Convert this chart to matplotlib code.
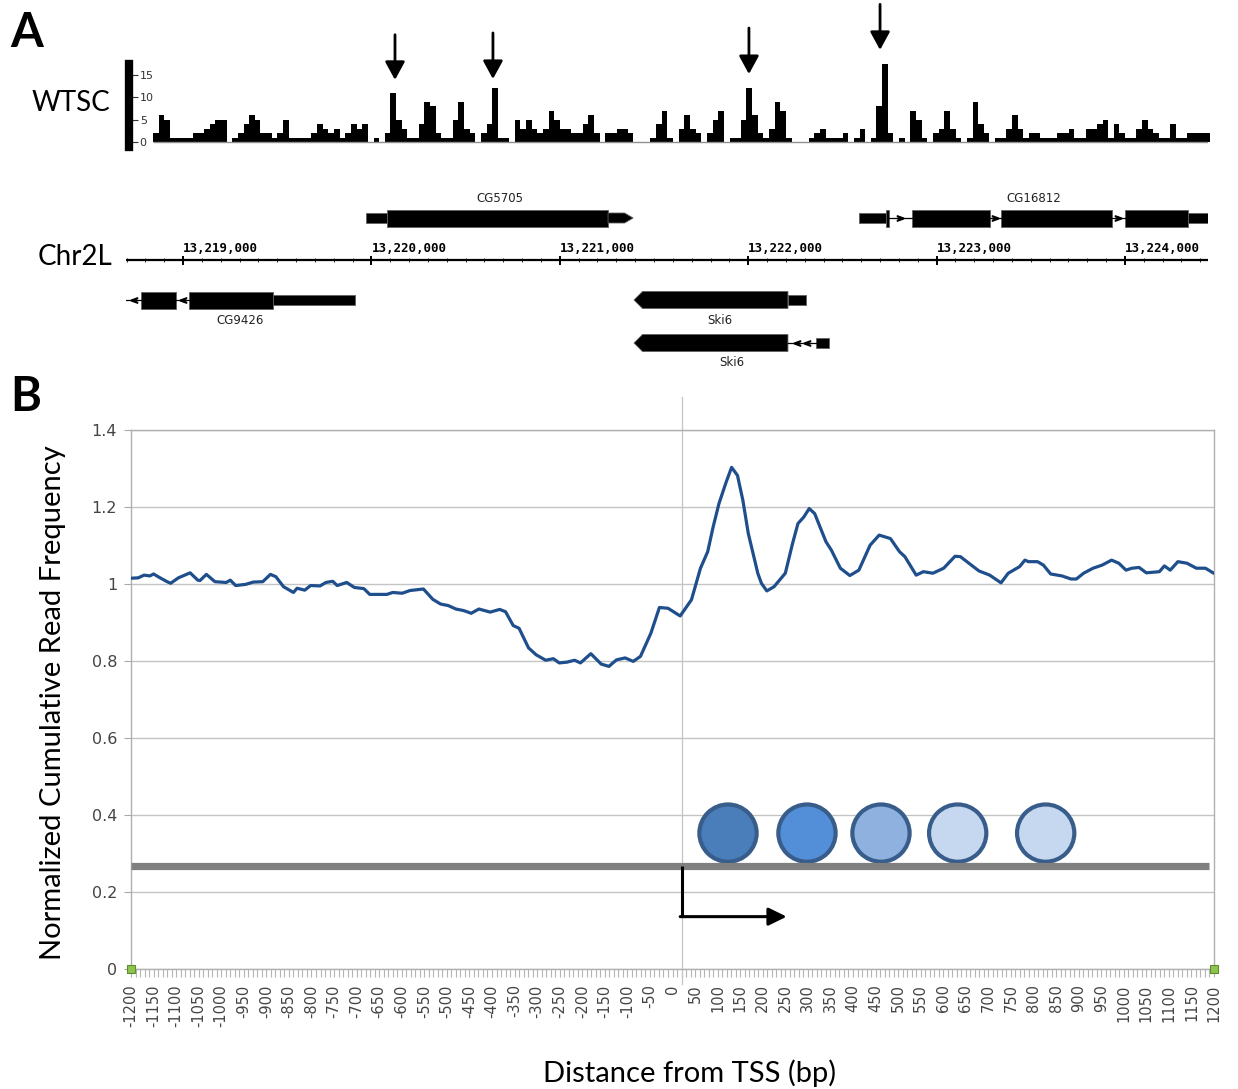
import numpy as np
import matplotlib.pyplot as plt
from matplotlib.patches import Polygon, Rectangle
from matplotlib.ticker import MultipleLocator, FuncFormatter

W, H = 1238, 1089


def frac(x0, y0, x1, y1):
    # pixel box -> figure fraction
    return [x0 / W, 1 - y1 / H, (x1 - x0) / W, (y1 - y0) / H]


# ---------------- panel A data ----------------
view_start, view_end = 13218697, 13224441
cov_start = 13218841
cov_bin = 30
coverage = [2, 6, 5, 1, 1, 1, 1, 2, 2, 3,
            4, 5, 5, 0, 1, 2, 4, 6, 5, 2,
            2, 1, 2, 5, 1, 1, 1, 1, 2, 4,
            3, 2, 3, 1, 2, 4, 3, 4, 0, 1,
            0, 2, 11, 5, 3, 1, 1, 4, 9, 8,
            2, 1, 1, 5, 9, 3, 2, 0, 2, 4,
            12, 1, 1, 0, 5, 3, 5, 3, 2, 3,
            7, 5, 3, 3, 2, 2, 4, 6, 2, 0,
            2, 2, 3, 3, 2, 0, 0, 0, 1, 4,
            7, 1, 0, 3, 6, 3, 2, 0, 2, 5,
            7, 0, 1, 1, 5, 12, 6, 2, 1, 3,
            9, 7, 1, 0, 0, 0, 1, 2, 3, 1,
            1, 1, 2, 0, 1, 3, 0, 1, 8, 17.5,
            2, 0, 1, 0, 7, 5, 1, 0, 2, 3,
            7, 3, 1, 0, 1, 9, 4, 2, 0, 1,
            1, 3, 6, 3, 1, 2, 2, 1, 1, 1,
            2, 2, 3, 1, 1, 3, 3, 4, 5, 1,
            4, 2, 1, 1, 3, 5, 3, 2, 1, 1,
            4, 1, 1, 2, 2, 2, 2]
cov_ticks = [0, 5, 10, 15]

# arrows marking the peaks (genomic x, tip height, tail height in reads)
arrow_x = [13220125, 13220645, 13222004, 13222700]
arrow_tip = [13.9, 14.1, 15.2, 20.6]
arrow_tail = [24.0, 24.4, 25.5, 30.8]

ruler_major = list(range(13219000, 13224001, 1000))
ruler_minor = list(range(13218700, view_end, 100))

# gene models: (kind, start, end)
cg5705 = [('utr', 13219971, 13220083), ('cds', 13220083, 13221256),
          ('utr', 13221256, 13221389)]
cg16812 = [('utr', 13222588, 13222731), ('cds', 13222731, 13222745),
           ('intron', 13222745, 13222869), ('cds', 13222869, 13223283),
           ('intron', 13223283, 13223342), ('cds', 13223342, 13223931),
           ('intron', 13223931, 13224000), ('cds', 13224000, 13224334),
           ('utr', 13224334, view_end)]
cg9426 = [('intron', view_start, 13218777), ('cds', 13218777, 13218963),
          ('intron', 13218963, 13219032), ('cds', 13219032, 13219478),
          ('utr', 13219478, 13219913)]
ski6_a = [('cds', 13221394, 13222211), ('utr', 13222211, 13222307)]
ski6_b = [('cds', 13221394, 13222211), ('intron', 13222211, 13222360),
          ('utr', 13222360, 13222429)]

# ---------------- panel B data ----------------
tss_dist = [-1200, -1184, -1171, -1158, -1150, -1137, -1120, -1112, -1095, -1069,
            -1052, -1047, -1033, -1014, -989, -980, -968, -946, -929, -908,
            -891, -879, -862, -840, -832, -815, -802, -781, -768, -753,
            -743, -722, -705, -684, -671, -633, -620, -599, -582, -552,
            -531, -514, -497, -480, -463, -446, -429, -404, -383, -370,
            -353, -340, -319, -302, -281, -264, -251, -234, -217, -204,
            -181, -158, -141, -124, -105, -87, -71, -48, -29, -10,
            17, 42, 62, 78, 90, 103, 119, 131, 144, 156,
            168, 189, 197, 209, 225, 250, 266, 278, 291, 303,
            315, 340, 352, 372, 393, 413, 438, 458, 483, 503,
            515, 540, 556, 577, 601, 626, 638, 679, 703, 728,
            744, 769, 781, 789, 809, 822, 838, 863, 883, 895,
            911, 932, 952, 973, 989, 1005, 1018, 1034, 1050, 1079,
            1090, 1103, 1120, 1140, 1161, 1181, 1198]
read_freq = [1.015, 1.016, 1.023, 1.021, 1.026, 1.017, 1.006, 1.002, 1.016, 1.029,
             1.010, 1.009, 1.025, 1.006, 1.004, 1.010, 0.996, 0.999, 1.005, 1.006,
             1.025, 1.019, 0.993, 0.978, 0.989, 0.984, 0.996, 0.995, 1.004, 1.007,
             0.996, 1.004, 0.991, 0.988, 0.973, 0.973, 0.978, 0.976, 0.983, 0.987,
             0.960, 0.948, 0.944, 0.935, 0.931, 0.924, 0.935, 0.927, 0.934, 0.928,
             0.892, 0.885, 0.834, 0.816, 0.802, 0.806, 0.795, 0.797, 0.802, 0.795,
             0.819, 0.792, 0.786, 0.803, 0.808, 0.799, 0.812, 0.872, 0.939, 0.937,
             0.917, 0.959, 1.041, 1.084, 1.148, 1.209, 1.265, 1.303, 1.282, 1.217,
             1.131, 1.028, 1.002, 0.982, 0.993, 1.028, 1.105, 1.157, 1.174, 1.196,
             1.183, 1.110, 1.088, 1.041, 1.022, 1.036, 1.101, 1.127, 1.118, 1.084,
             1.071, 1.023, 1.032, 1.028, 1.041, 1.072, 1.071, 1.034, 1.023, 1.003,
             1.028, 1.045, 1.062, 1.058, 1.058, 1.049, 1.026, 1.021, 1.013, 1.013,
             1.028, 1.041, 1.049, 1.062, 1.054, 1.036, 1.041, 1.043, 1.029, 1.032,
             1.047, 1.036, 1.058, 1.054, 1.041, 1.041, 1.029]
end_points = [-1200, 1200]

nuc_pos = [123, 298, 462, 632, 827]
nuc_level = 0.353
nuc_colors = ['#4a7ebb', '#538fd8', '#8eb1e0', '#c6d8f0', '#c6d8f0']
dna_level = 0.268
tss_x = 20
tss_arrow_y = 0.136
tss_arrow_end = 253

label_font = ['Lato', 'DejaVu Sans']

fig = plt.figure(figsize=(W / 100, H / 100), dpi=100)

# ---------- coverage track ----------
axc = fig.add_axes(frac(126, 64, 1208, 147))
axc.set_xlim(view_start, view_end)
axc.set_ylim(-1.12, 17.45)
edges = cov_start + cov_bin * np.arange(len(coverage))
axc.bar(edges, coverage, width=cov_bin, align='edge', color='black',
        linewidth=0, clip_on=False)
axc.hlines(0, cov_start, cov_start + cov_bin * len(coverage),
           color='#909090', lw=1)
for s in ['top', 'right', 'bottom']:
    axc.spines[s].set_visible(False)
axc.spines['left'].set_linewidth(6)
axc.spines['left'].set_position(('outward', -2.4))
axc.set_xticks([])
axc.set_yticks(cov_ticks)
axc.tick_params(axis='y', direction='in', length=6.5, width=0.8,
                pad=-7.5, labelsize=8, colors='#333333')
plt.setp(axc.get_yticklabels(), ha='left')
axc.patch.set_visible(False)
for gx, tip, tail in zip(arrow_x, arrow_tip, arrow_tail):
    axc.annotate('', xy=(gx, tip), xytext=(gx, tail), annotation_clip=False,
                 arrowprops=dict(arrowstyle='-|>,head_length=0.55,head_width=0.3',
                                 mutation_scale=20, lw=2, color='black',
                                 shrinkA=0, shrinkB=0))

# ---------- gene models + ruler ----------
axg = fig.add_axes(frac(126, 180, 1208, 375))
axg.set_xlim(view_start, view_end)
axg.set_ylim(375, 180)
axg.axis('off')

cds_h, utr_h, tip_len = 17, 10, 45


def draw_gene(parts, y, strand, tip=True):
    for i, (kind, a, b) in enumerate(parts):
        if kind == 'intron':
            axg.plot([a, b], [y, y], color='black', lw=0.9)
            n = max(1, int((b - a) / 70))
            xs = np.linspace(a, b, n + 2)[1:-1]
            axg.plot(xs, [y] * len(xs), ls='none', color='black',
                     marker='$>$' if strand > 0 else '$<$', markersize=4.5)
            continue
        h = cds_h if kind == 'cds' else utr_h
        last = (i == len(parts) - 1) if strand > 0 else (i == 0)
        if tip and last:
            if strand > 0:
                pts = [(a, y - h / 2), (b - tip_len, y - h / 2), (b, y),
                       (b - tip_len, y + h / 2), (a, y + h / 2)]
            else:
                pts = [(b, y - h / 2), (a + tip_len, y - h / 2), (a, y),
                       (a + tip_len, y + h / 2), (b, y + h / 2)]
            axg.add_patch(Polygon(pts, closed=True, fc='black', ec='#606060', lw=0.6))
        else:
            axg.add_patch(Rectangle((a, y - h / 2), b - a, h, fc='black',
                                    ec='#606060', lw=0.6))


def gene_label(parts, y, name):
    mid = (parts[0][1] + parts[-1][2]) / 2
    axg.text(mid, y, name, ha='center', va='center', fontsize=8.5,
             color='#222222', family='DejaVu Sans')


draw_gene(cg5705, 218, +1)
gene_label(cg5705, 198, 'CG5705')
draw_gene(cg16812, 218, +1, tip=False)
gene_label(cg16812, 198, 'CG16812')
draw_gene(cg9426, 300, -1, tip=False)
gene_label(cg9426, 320, 'CG9426')
draw_gene(ski6_a, 300, -1)
gene_label(ski6_a, 320, 'Ski6')
draw_gene(ski6_b, 343, -1)
gene_label(ski6_b, 362, 'Ski6')

axg.plot([view_start, view_end], [260, 260], color='black', lw=1.6)
axg.vlines(ruler_minor, 258, 262, color='black', lw=0.6)
axg.vlines(ruler_major, 255.5, 264.5, color='black', lw=1.4)
for g in ruler_major:
    axg.text(g, 255, f'{g:,}', ha='left', va='bottom', fontsize=9,
             family='DejaVu Sans Mono', weight='bold')

# ---------- panel B ----------
ax = fig.add_axes(frac(131, 430, 1214, 969))
ax.set_xlim(-1200, 1200)
ax.set_ylim(0, 1.4)
ax.set_axisbelow(True)
ax.grid(axis='y', color='#c4c4c4', lw=1)
ax.set_yticks(np.arange(0, 1.41, 0.2))
ax.yaxis.set_major_formatter(FuncFormatter(lambda v, p: f'{v:g}'))
ax.set_xticks(range(-1200, 1201, 50))
ax.xaxis.set_major_formatter(FuncFormatter(lambda v, p: f'{int(round(v))}'))
ax.xaxis.set_minor_locator(MultipleLocator(10))
ax.tick_params(axis='x', which='both', length=6, width=0.8, color='#b5b5b5',
               labelrotation=90, labelsize=10.5, labelcolor='#444444', pad=5)
ax.tick_params(axis='y', length=5, width=0.8, color='#a8a8a8',
               labelsize=11.5, labelcolor='#444444', pad=5)
for s in ax.spines.values():
    s.set_color('#b0b0b0')
    s.set_linewidth(1)

ax.plot([tss_x, tss_x], [-0.04, 1.486], color='#c4c4c4', lw=0.9,
        clip_on=False, zorder=1)
ax.plot(tss_dist, read_freq, color='#1f4e8c', lw=2.3, zorder=3)
ax.plot(end_points, [0, 0], ls='none', marker='s', ms=5.5, mfc='#8fc34f',
        mec='#5b8f2e', mew=0.8, clip_on=False, zorder=6)

ax.scatter(nuc_pos, [nuc_level] * len(nuc_pos), s=1700, c=nuc_colors,
           edgecolors='#385d8a', linewidths=3, zorder=4)
ax.plot([-1200, 1190], [dna_level, dna_level], color='#808080', lw=5.2,
        solid_capstyle='butt', zorder=5)
ax.plot([tss_x, tss_x], [dna_level, tss_arrow_y], color='black', lw=2.2,
        solid_capstyle='butt', zorder=6)
ax.annotate('', xy=(tss_arrow_end, tss_arrow_y), xytext=(tss_x - 3, tss_arrow_y),
            arrowprops=dict(arrowstyle='-|>,head_length=0.55,head_width=0.27',
                            mutation_scale=20, lw=2.2, color='black',
                            shrinkA=0, shrinkB=0), zorder=6)

# ---------- texts ----------
fig.text(10 / W, 1 - 33 / H, 'A', fontsize=34, weight='bold', family=label_font,
         va='center', ha='left')
fig.text(10 / W, 1 - 397 / H, 'B', fontsize=34, weight='bold', family=label_font,
         va='center', ha='left')
fig.text(71 / W, 1 - 103 / H, 'WTSC', fontsize=20, family=label_font,
         va='center', ha='center')
fig.text(75 / W, 1 - 257 / H, 'Chr2L', fontsize=20, family=label_font,
         va='center', ha='center')
fig.text(53 / W, 1 - 703 / H, 'Normalized Cumulative Read Frequency', fontsize=21,
         family=label_font, rotation=90, va='center', ha='center')
fig.text(690 / W, 1 - 1073 / H, 'Distance from TSS (bp)', fontsize=21,
         family=label_font, va='center', ha='center')

fig.savefig('out.png', dpi=100)
